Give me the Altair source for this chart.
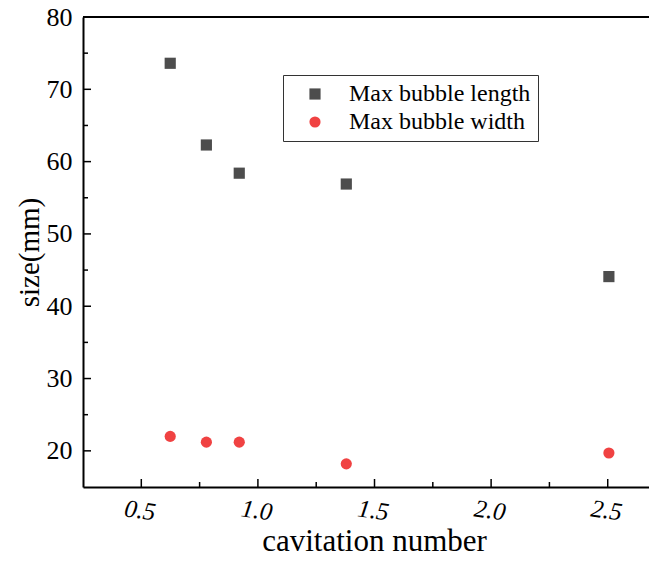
import altair as alt
import pandas as pd

# data
cav = [0.624, 0.779, 0.920, 1.379, 2.505]
max_length = [73.6, 62.3, 58.4, 56.9, 44.1]
max_width = [22.0, 21.2, 21.2, 18.2, 19.7]
series_names = ["Max bubble length", "Max bubble width"]

x_major = [0.5, 1.0, 1.5, 2.0, 2.5]
x_minor = [0.75, 1.25, 1.75, 2.25]
y_major = [20, 30, 40, 50, 60, 70, 80]
y_minor = [25, 35, 45, 55, 65, 75]

rows = []
for xv, lv, wv in zip(cav, max_length, max_width):
    rows.append({"cav": xv, "size": lv, "series": series_names[0]})
    rows.append({"cav": xv, "size": wv, "series": series_names[1]})
df = pd.DataFrame(rows)

FONT = "Liberation Serif, Times New Roman, serif"
W, H = 566, 470
xscale = alt.Scale(domain=[0.25, 2.677], nice=False, zero=False)
yscale = alt.Scale(domain=[15, 80], nice=False, zero=False)

xaxis = alt.Axis(values=x_major, format=".1f", title="cavitation number",
                 ticks=False, grid=False, domainColor="black", domainWidth=2,
                 labelFont=FONT, labelFontSize=25, labelFontStyle="italic",
                 labelAngle=8, labelAlign="center", labelBaseline="top",
                 labelPadding=11, labelColor="black",
                 titleFont=FONT, titleFontSize=31, titleFontWeight="normal",
                 titleColor="black", titleX=291, titleY=63,
                 titleAlign="center", titleBaseline="alphabetic")
yaxis = alt.Axis(values=y_major, title="size(mm)", ticks=False, grid=False,
                 domainColor="black", domainWidth=2,
                 labelFont=FONT, labelFontSize=26, labelPadding=11,
                 labelColor="black", labelBaseline="middle",
                 titleFont=FONT, titleFontSize=29, titleFontWeight="normal",
                 titleColor="black", titleAngle=-90, titleX=-45, titleY=235,
                 titleAlign="center", titleBaseline="alphabetic")

leg = alt.Legend(title=None, orient="none", legendX=200, legendY=58,
                 labelFont=FONT, labelFontSize=24, labelColor="black",
                 symbolSize=125, strokeColor="#333333",
                 padding=7, symbolOffset=13, labelOffset=22,
                 rowPadding=4, labelLimit=400)

points = alt.Chart(df).mark_point(filled=True, opacity=1, size=125).encode(
    x=alt.X("cav:Q", scale=xscale, axis=xaxis),
    y=alt.Y("size:Q", scale=yscale, axis=yaxis),
    color=alt.Color("series:N",
                    scale=alt.Scale(domain=series_names, range=["#4d4d4d", "#f04242"]),
                    legend=leg),
    shape=alt.Shape("series:N",
                    scale=alt.Scale(domain=series_names, range=["square", "circle"]),
                    legend=leg),
)

xt_major = alt.Chart(pd.DataFrame({"cav": x_major})).mark_rule(color="black", strokeWidth=1.5).encode(
    x=alt.X("cav:Q", scale=xscale, axis=xaxis), y=alt.value(H), y2=alt.value(H - 8))
xt_minor = alt.Chart(pd.DataFrame({"cav": x_minor})).mark_rule(color="black", strokeWidth=1.5).encode(
    x=alt.X("cav:Q", scale=xscale, axis=xaxis), y=alt.value(H), y2=alt.value(H - 5))
yt_major = alt.Chart(pd.DataFrame({"size": y_major})).mark_rule(color="black", strokeWidth=1.5).encode(
    y=alt.Y("size:Q", scale=yscale, axis=yaxis), x=alt.value(0), x2=alt.value(8))
yt_minor = alt.Chart(pd.DataFrame({"size": y_minor})).mark_rule(color="black", strokeWidth=1.5).encode(
    y=alt.Y("size:Q", scale=yscale, axis=yaxis), x=alt.value(0), x2=alt.value(5))
top_line = alt.Chart(pd.DataFrame({"size": [80]})).mark_rule(color="black", strokeWidth=2).encode(
    y=alt.Y("size:Q", scale=yscale, axis=yaxis))

chart = alt.layer(points, xt_major, xt_minor, yt_major, yt_minor, top_line).properties(
    width=W, height=H,
    autosize=alt.AutoSizeParams(type="none"),
    padding={"left": 75, "top": 9, "right": 0, "bottom": 70},
).configure_view(stroke=None).configure(background="white")

chart.save("out.html", embed_options={"renderer": "svg", "actions": False})
